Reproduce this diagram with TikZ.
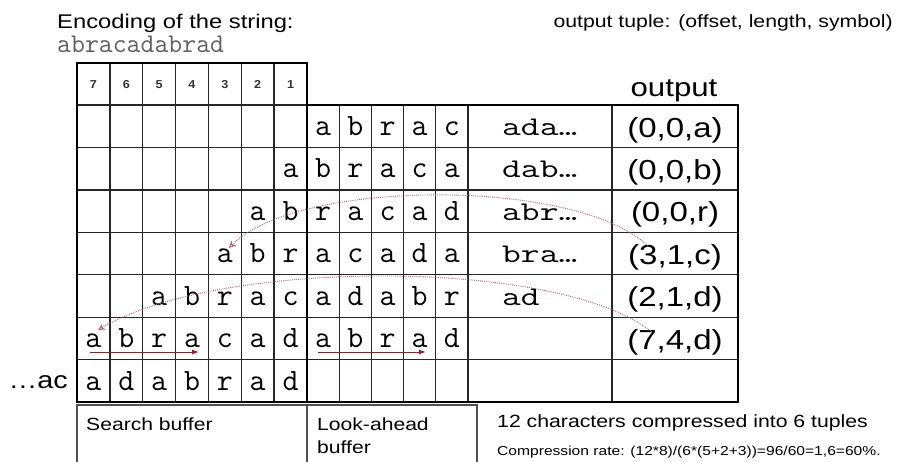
\documentclass[tikz,border=0pt]{standalone}
\usepackage{fontspec}
\usepackage{graphicx}
\setmainfont{Liberation Sans}
\newfontfamily\sfw[FakeStretch=1.2]{Liberation Sans}
\newfontfamily\sfwb[FakeStretch=1.1]{Liberation Sans Bold}
\usetikzlibrary{arrows.meta}
\definecolor{gridc}{HTML}{262626}
\definecolor{dotred}{HTML}{C0606E}
\definecolor{solidred}{HTML}{A31C1C}
\definecolor{graytxt}{HTML}{606060}
\newcommand\wide[1]{\scalebox{1.35}[1]{#1}}
\tikzset{
  thingrid/.style={draw=gridc, line width=1.3pt},
  thickgrid/.style={draw=black, line width=2.6pt},
  let/.style={font=\ttfamily\fontsize{31}{34}\selectfont, anchor=base, inner sep=0pt},
  ext/.style={font=\ttfamily\fontsize{27}{30}\selectfont, anchor=base west, inner sep=0pt},
  tup/.style={font=\sfw\fontsize{27.5}{30}\selectfont, anchor=base, inner sep=0pt},
  hdr/.style={font=\sfwb\fontsize{11.5}{13}\selectfont, text=black!80, anchor=base, inner sep=0pt},
  sftext/.style={font=\sfw\fontsize{#1}{#1}\selectfont, inner sep=0pt},
  dotarrow/.style={draw=dotred, line width=0.9pt, densely dotted, -{Stealth[open,length=7pt,width=7pt]}},
  solidarrow/.style={draw=solidred, line width=1pt, -{Latex[length=7pt,width=5pt]}},
  bufbox/.style={draw=gridc!80, line width=1.4pt},
}
\newcommand\srow[3]{\foreach \ch [count=\k from #2] in {#3} \node[let] (s#1c\k) at ({77+(\k-0.5)*32.857},{105+(#1-1)*42.43+30.5}) {\ch};}
\newcommand\lrow[2]{\foreach \ch [count=\k] in {#2} \node[let] (l#1c\k) at ({307+(\k-0.5)*32.2},{105+(#1-1)*42.43+30.5}) {\ch};}
\begin{document}
\begin{tikzpicture}[x=1pt,y=-1pt]
\useasboundingbox (0,0) rectangle (899,461);
\clip (0,0) rectangle (899,461);
\fill[white] (0,0) rectangle (899,461);
% titles
\node[sftext=19.8, anchor=base west] (title) at (57,28) {Encoding of the string:};
\node[font=\ttfamily\fontsize{27}{30}\selectfont, text=graytxt, anchor=base west, inner sep=0pt] (str) at (57,52) {abracadabrad};
\node[sftext=17.7, anchor=base east] (tupinfo) at (893,27) {output tuple: (offset, length, symbol)};
\node[sftext=26, anchor=base] (outlbl) at (674,96) {output};
% thin grid lines
\foreach \i in {1,...,6} \draw[thingrid] ({77+\i*32.857},63) -- ({77+\i*32.857},402);
\foreach \i in {1,...,4} \draw[thingrid] ({307+\i*32.2},105) -- ({307+\i*32.2},402);
\draw[thingrid] (468,105) -- (468,402);
\draw[thingrid] (612,105) -- (612,402);
\draw[thingrid] (77,105) -- (307,105);
\foreach \j in {1,...,6} \draw[thingrid] (77,{105+\j*42.43}) -- (738,{105+\j*42.43});
% thick borders
\draw[thickgrid] (77,63) rectangle (307,402);
\draw[thickgrid] (307,105) rectangle (738,402);
% header numbers
\foreach \n [count=\k] in {7,6,5,4,3,2,1} \node[hdr] (h\k) at ({77+(\k-0.5)*32.857},88.5) {\n};
% row contents
\lrow{1}{a,b,r,a,c}
\srow{2}{7}{a}
\lrow{2}{b,r,a,c,a}
\srow{3}{6}{a,b}
\lrow{3}{r,a,c,a,d}
\srow{4}{5}{a,b,r}
\lrow{4}{a,c,a,d,a}
\srow{5}{3}{a,b,r,a,c}
\lrow{5}{a,d,a,b,r}
\srow{6}{1}{a,b,r,a,c,a,d}
\lrow{6}{a,b,r,a,d}
\srow{7}{1}{a,d,a,b,r,a,d}
\node[ext] (e1) at (502,{105+0*42.43+30.5}) {\wide{ada…}};
\node[ext] (e2) at (502,{105+1*42.43+30.5}) {\wide{dab…}};
\node[ext] (e3) at (502,{105+2*42.43+30.5}) {\wide{abr…}};
\node[ext] (e4) at (502,{105+3*42.43+30.5}) {\wide{bra…}};
\node[ext] (e5) at (502,{105+4*42.43+30.5}) {\wide{ad}};
\node[tup] (t1) at (675,{105+0*42.43+32}) {(0,0,a)};
\node[tup] (t2) at (675,{105+1*42.43+32}) {(0,0,b)};
\node[tup] (t3) at (675,{105+2*42.43+32}) {(0,0,r)};
\node[tup] (t4) at (675,{105+3*42.43+32}) {(3,1,c)};
\node[tup] (t5) at (675,{105+4*42.43+32}) {(2,1,d)};
\node[tup] (t6) at (675,{105+5*42.43+32}) {(7,4,d)};
\node[font=\sfw\fontsize{24}{26}\selectfont, anchor=base east, inner sep=0pt] (pre) at (68,388) {…ac};
% arrows
\coordinate (a1s) at (648,246);
\coordinate (a1e) at (229,248);
\draw[dotarrow] (a1s) .. controls (578,178) and (298,178) .. (a1e);
\coordinate (a2s) at (652,332);
\coordinate (a2e) at (98,330);
\draw[dotarrow] (a2s) .. controls (560,258) and (220,258) .. (a2e);
\coordinate (b1s) at (90,352);
\coordinate (b1e) at (199,352);
\draw[solidarrow] (b1s) -- (b1e);
\coordinate (b2s) at (318,352);
\coordinate (b2e) at (426,352);
\draw[solidarrow] (b2s) -- (b2e);
% bottom boxes
\draw[bufbox] (77,475) -- (77,405) -- (307,405) -- (307,475);
\draw[bufbox] (307,405) -- (477,405) -- (477,475);
\node[sftext=17.6, anchor=base west] (sb) at (86,430) {Search buffer};
\node[sftext=17.6, anchor=base west] (lab1) at (317,430) {Look-ahead};
\node[sftext=17.6, anchor=base west] (lab2) at (317,453) {buffer};
\node[sftext=17.7, anchor=base west] (summ) at (497,427) {12 characters compressed into 6 tuples};
\node[sftext=13, anchor=base west] (rate) at (497,455) {Compression rate: (12*8)/(6*(5+2+3))=96/60=1,6=60\%.};
\end{tikzpicture}
\end{document}
